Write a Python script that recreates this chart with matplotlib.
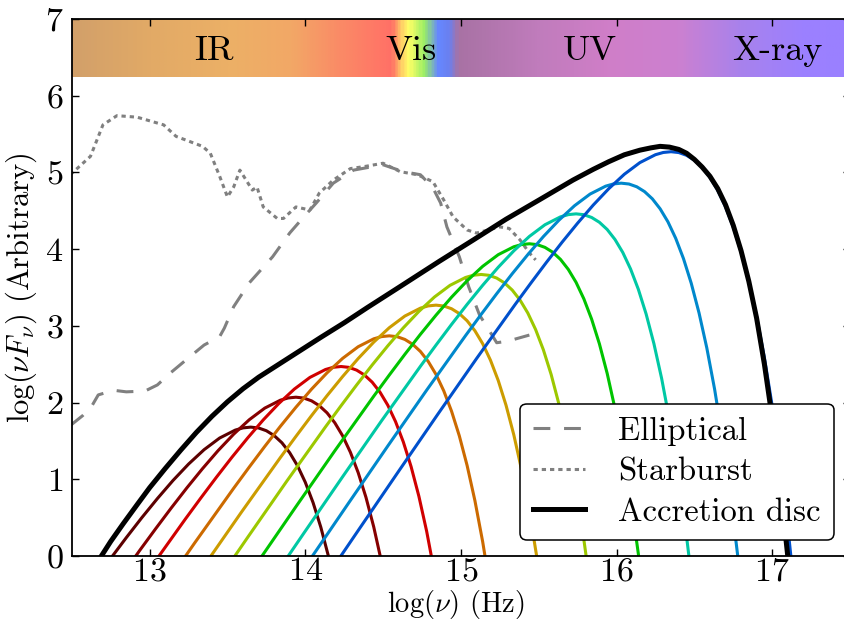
import numpy as np
import matplotlib
matplotlib.use("Agg")
import matplotlib.pyplot as plt
from matplotlib.colors import LinearSegmentedColormap

plt.rcParams['font.family'] = 'serif'
plt.rcParams['font.serif'] = ['cmr10']
plt.rcParams['mathtext.fontset'] = 'cm'
plt.rcParams['axes.formatter.use_mathtext'] = True

# ---------------- data ----------------
# disc annuli: peak position (log nu) and peak height (log nuFnu)
annulus_peak_x = [13.65, 13.94, 14.23, 14.54, 14.84, 15.13, 15.44, 15.74, 16.03, 16.35]
annulus_peak_y = [1.68, 2.07, 2.47, 2.87, 3.27, 3.67, 4.07, 4.46, 4.86, 5.27]
annulus_colors = ['#5c0000', '#860000', '#d00000', '#cc6a00', '#cc9c00',
                  '#9cc800', '#00c400', '#00c8a4', '#0088cc', '#0050cc']
# common annulus profile (offset from peak)
profile_dx = [-3.0, -2.5, -2.25, -2.0, -1.75, -1.5, -1.25, -1.0, -0.9, -0.8, -0.7,
              -0.6, -0.5, -0.4, -0.3, -0.2, -0.1, -0.05, 0.0, 0.05, 0.1, 0.15, 0.2,
              0.25, 0.3, 0.35, 0.4, 0.45, 0.5, 0.55, 0.6, 0.65, 0.7, 0.75, 0.8, 0.85]
profile_dy = [-7.900, -6.402, -5.654, -4.908, -4.165, -3.427, -2.698, -1.987, -1.711,
              -1.441, -1.180, -0.931, -0.696, -0.482, -0.294, -0.142, -0.039, -0.010,
              0.0, -0.011, -0.047, -0.110, -0.204, -0.334, -0.503, -0.718, -0.983,
              -1.305, -1.691, -2.148, -2.685, -3.312, -4.040, -4.881, -5.850, -6.961]

disc_x = [12.69, 12.75, 12.83, 12.92, 13.00, 13.10, 13.20, 13.30, 13.40, 13.50, 13.60,
          13.70, 13.80, 13.90, 14.00, 14.10, 14.25, 14.40, 14.60, 14.86, 15.08, 15.29,
          15.51, 15.72, 15.85, 15.95, 16.05, 16.15, 16.22, 16.28, 16.34, 16.40, 16.45,
          16.50, 16.55, 16.60, 16.65, 16.70, 16.75, 16.80, 16.85, 16.90, 16.95, 17.00,
          17.05, 17.10]
disc_y = [0.0, 0.19, 0.42, 0.67, 0.89, 1.14, 1.38, 1.61, 1.82, 2.01, 2.18,
          2.33, 2.46, 2.59, 2.72, 2.85, 3.04, 3.24, 3.50, 3.84, 4.12, 4.39,
          4.65, 4.90, 5.04, 5.14, 5.23, 5.29, 5.32, 5.34, 5.33, 5.30, 5.25,
          5.17, 5.07, 4.95, 4.79, 4.58, 4.31, 3.98, 3.58, 3.10, 2.50, 1.80,
          0.95, 0.0]

ell_x = [12.49, 12.57, 12.63, 12.67, 12.77, 12.85, 12.97, 13.05, 13.13, 13.26, 13.35,
         13.45, 13.48, 13.54, 13.64, 13.79, 13.90, 13.99, 14.07, 14.18, 14.31, 14.50,
         14.63, 14.74, 14.82, 14.87, 14.91, 14.99, 15.05, 15.12, 15.17, 15.23, 15.30, 15.44]
ell_y = [1.70, 1.83, 1.96, 2.10, 2.16, 2.14, 2.15, 2.23, 2.38, 2.60, 2.75,
         2.86, 2.97, 3.25, 3.56, 3.90, 4.21, 4.42, 4.60, 4.86, 5.03, 5.10,
         5.01, 4.97, 4.80, 4.60, 4.29, 3.90, 3.51, 3.14, 2.98, 2.78, 2.80, 2.88]

sb_x = [12.49, 12.55, 12.62, 12.70, 12.79, 12.92, 13.09, 13.17, 13.34, 13.39, 13.45,
        13.50, 13.54, 13.58, 13.62, 13.66, 13.69, 13.73, 13.82, 13.86, 13.94, 14.03,
        14.09, 14.18, 14.29, 14.39, 14.50, 14.61, 14.72, 14.82, 14.89, 14.95, 15.04,
        15.10, 15.25, 15.31, 15.38, 15.44, 15.48]
sb_y = [4.97, 5.08, 5.21, 5.62, 5.74, 5.72, 5.62, 5.47, 5.34, 5.25, 4.95,
        4.68, 4.81, 5.03, 4.90, 4.77, 4.81, 4.55, 4.40, 4.40, 4.55, 4.51,
        4.73, 4.90, 5.05, 5.08, 5.12, 5.01, 4.97, 4.88, 4.64, 4.42, 4.25,
        4.21, 4.29, 4.27, 4.12, 3.95, 3.86]

# spectrum band
band_x = [12.5, 13.0, 13.5, 13.9, 14.2, 14.45, 14.55, 14.62, 14.66, 14.76, 14.85,
          14.92, 14.98, 15.5, 15.95, 16.4, 16.8, 17.2, 17.5]
band_colors = ['#d2a06a', '#e2aa66', '#ecb066', '#f2a866', '#fa8c66', '#ff7866',
               '#ff7066', '#ffd866', '#ffff66', '#99ee66', '#6688ff', '#6a80f0',
               '#a872a4', '#c07cbc', '#d07ec8', '#cc80d0', '#a882ec', '#9c80ff', '#9a80ff']
band_labels = ['IR', 'Vis', 'UV', 'X-ray']
band_label_x = [13.41, 14.68, 15.83, 17.03]

xlim = (12.5, 17.5)
ylim = (0, 7)

# ---------------- plot ----------------
fig = plt.figure(figsize=(8.45, 6.21), dpi=100)
ax = fig.add_axes([71.8 / 845, 65 / 621, (850 - 71.8) / 845, 537 / 621])

span = xlim[1] - xlim[0]
cmap = LinearSegmentedColormap.from_list(
    'band', [((bx - xlim[0]) / span, c) for bx, c in zip(band_x, band_colors)])
ax.imshow(np.linspace(0, 1, 600)[None, :], extent=[xlim[0], xlim[1], 6.25, 7.0],
          aspect='auto', cmap=cmap, zorder=0.5, interpolation='bilinear')
for lab, lx in zip(band_labels, band_label_x):
    ax.text(lx, 6.47, lab, ha='center', va='baseline', fontsize=26, zorder=3)

pdx = np.array(profile_dx)
pdy = np.array(profile_dy)
for px, py, c in zip(annulus_peak_x, annulus_peak_y, annulus_colors):
    ax.plot(px + pdx, py + pdy, color=c, lw=2.2, zorder=2)

ax.plot(ell_x, ell_y, color='#808080', lw=2.2, dashes=(5.5, 4.5), label='Elliptical', zorder=1.5)
ax.plot(sb_x, sb_y, color='#808080', lw=2.2, dashes=(1.4, 1.3), label='Starburst', zorder=1.5)
ax.plot(disc_x, disc_y, color='black', lw=3.6, label='Accretion disc', zorder=2.5,
        solid_joinstyle='round')

ax.set_xlim(*xlim)
ax.set_ylim(*ylim)
ax.set_xticks([13, 14, 15, 16, 17])
ax.set_yticks([0, 1, 2, 3, 4, 5, 6, 7])
ax.tick_params(direction='in', top=True, right=True, length=5, width=1, labelsize=24.5)
ax.tick_params(axis='x', pad=1)
ax.tick_params(axis='y', pad=6)
for s in ax.spines.values():
    s.set_linewidth(1.3)
    s.set_zorder(4)

ax.set_xlabel(r'$\log(\nu)$ (Hz)', fontsize=20.5)
ax.xaxis.set_label_coords(0.4935, -0.0595)
ax.xaxis.label.set_va('top')
ax.set_ylabel(r'$\log(\nu F_{\nu})$ (Arbitrary)', fontsize=22, labelpad=4)

leg = ax.legend(loc='lower right', fontsize=23.5, frameon=True, fancybox=True,
                edgecolor='black', framealpha=1, handlelength=1.6,
                borderaxespad=0.5, labelspacing=0.35, handletextpad=1.0)
leg.get_frame().set_linewidth(1.1)
leg.set_zorder(5)

fig.savefig('out.png', dpi=100)
